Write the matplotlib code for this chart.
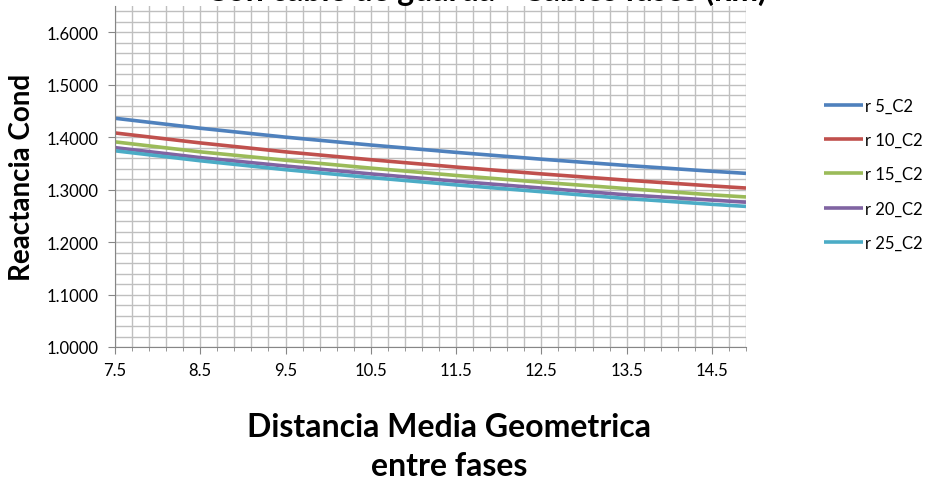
import matplotlib
matplotlib.use("Agg")
import matplotlib.pyplot as plt
from matplotlib.ticker import MultipleLocator, FormatStrFormatter

# distances (m) read at the major ticks plus the last point
distancia = [7.5, 8.5, 9.5, 10.5, 11.5, 12.5, 13.5, 14.5, 14.9]

# reactance per conductor radius
r5 = [1.436, 1.417, 1.400, 1.385, 1.371, 1.358, 1.346, 1.335, 1.331]
r10 = [1.408, 1.389, 1.372, 1.357, 1.343, 1.330, 1.318, 1.307, 1.303]
r15 = [1.391, 1.372, 1.356, 1.341, 1.327, 1.314, 1.302, 1.290, 1.286]
r20 = [1.380, 1.361, 1.345, 1.330, 1.316, 1.303, 1.290, 1.280, 1.276]
r25 = [1.374, 1.355, 1.338, 1.323, 1.309, 1.296, 1.283, 1.272, 1.268]

series = [r5, r10, r15, r20, r25]
labels = ["r 5_C2", "r 10_C2", "r 15_C2", "r 20_C2", "r 25_C2"]
colors = ["#4F81BD", "#C0504D", "#9BBB59", "#8064A2", "#4BACC6"]

plt.rcParams['font.family'] = ['Lato', 'DejaVu Sans']

fig = plt.figure(figsize=(9.26, 4.85), dpi=100)
ax = fig.add_axes([115 / 926, 1 - 348 / 485, (746 - 115) / 926, (348 - 7) / 485])

for vals, lab, col in zip(series, labels, colors):
    ax.plot(distancia, vals, color=col, lw=2.6, label=lab, solid_capstyle='butt')

ax.set_xlim(7.5, 14.9)
ax.set_ylim(1.0, 1.65)
ax.xaxis.set_major_locator(MultipleLocator(1.0, offset=0.5))
ax.xaxis.set_minor_locator(MultipleLocator(0.2, offset=0.1))
ax.yaxis.set_major_locator(MultipleLocator(0.1))
ax.yaxis.set_minor_locator(MultipleLocator(0.02))
ax.xaxis.set_major_formatter(FormatStrFormatter('%.1f'))
ax.yaxis.set_major_formatter(FormatStrFormatter('%.4f'))

# --- grid and axes styling ---
ax.grid(which='both', color='#BFBFBF', lw=1.0)
ax.set_axisbelow(True)
for s in ['top', 'right']:
    ax.spines[s].set_visible(False)
for s in ['left', 'bottom']:
    ax.spines[s].set_color('#868686')
ax.tick_params(which='major', length=5, color='#868686', labelsize=12, pad=7)
ax.tick_params(axis='x', which='minor', length=3, color='#868686')
ax.tick_params(axis='y', which='minor', length=0)
ax.tick_params(axis='x', pad=6)

ax.set_ylabel("Reactancia Cond", fontsize=20, fontweight='bold', labelpad=8)
fig.text(0.485, 0.078, "Distancia Media Geometrica\nentre fases", ha='center', va='center',
         fontsize=23, fontweight='bold', linespacing=1.4)

# title is mostly cut off at the top in the original
fig.text(0.525, 1 - 1 / 485, "Con cable de guarda - Cables fases (km)", ha='center',
         va='baseline', fontsize=23, fontweight='bold')

ax.legend(loc='upper left', bbox_to_anchor=(0.8737, 0.828), bbox_transform=fig.transFigure,
          frameon=False, fontsize=12, handlelength=2.35, handletextpad=0.1, labelspacing=1.1)

fig.savefig("out.png", dpi=100)
